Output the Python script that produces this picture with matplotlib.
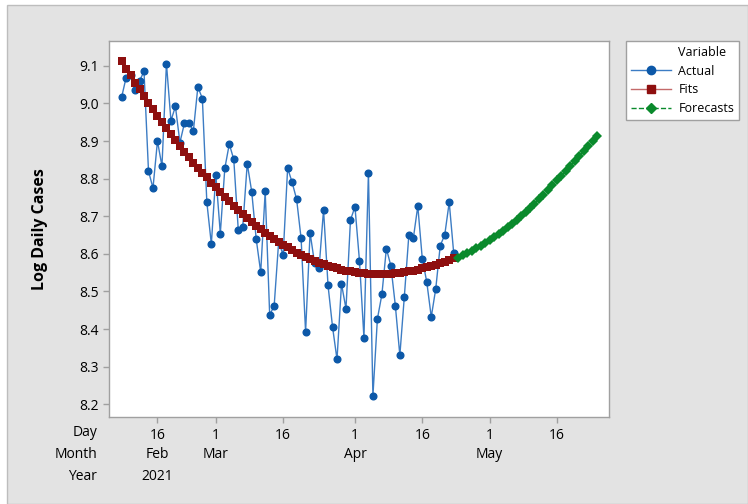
import numpy as np
import pandas as pd
import matplotlib
matplotlib.use('Agg')
import matplotlib.pyplot as plt
import matplotlib.dates as mdates
from matplotlib.lines import Line2D
from matplotlib.patches import Rectangle
from matplotlib.transforms import blended_transform_factory

# Daily log cases, from 8 Feb 2021
start_date = '2021-02-08'
actual = [9.016, 9.068, 9.075, 9.037, 9.060, 9.085, 8.820, 8.775, 8.900, 8.833,
          9.106, 8.954, 8.992, 8.896, 8.947, 8.948, 8.927, 9.044, 9.013, 8.737,
          8.626, 8.810, 8.654, 8.827, 8.892, 8.851, 8.664, 8.672, 8.840, 8.765,
          8.639, 8.551, 8.766, 8.437, 8.462, 8.632, 8.597, 8.828, 8.790, 8.745,
          8.641, 8.392, 8.656, 8.575, 8.562, 8.717, 8.516, 8.406, 8.319, 8.520,
          8.454, 8.690, 8.725, 8.582, 8.377, 8.815, 8.222, 8.427, 8.492, 8.614,
          8.568, 8.462, 8.330, 8.486, 8.649, 8.641, 8.727, 8.587, 8.525, 8.432,
          8.507, 8.622, 8.650, 8.737, 8.602]

fits = [9.113, 9.091, 9.076, 9.054, 9.038, 9.020, 9.002, 8.985, 8.967, 8.950,
        8.935, 8.918, 8.904, 8.888, 8.872, 8.858, 8.842, 8.828, 8.815, 8.803,
        8.788, 8.777, 8.764, 8.751, 8.741, 8.728, 8.717, 8.706, 8.696, 8.684,
        8.673, 8.665, 8.655, 8.647, 8.640, 8.632, 8.624, 8.617, 8.610, 8.603,
        8.597, 8.591, 8.586, 8.581, 8.576, 8.572, 8.568, 8.564, 8.561, 8.558,
        8.555, 8.553, 8.551, 8.549, 8.548, 8.547, 8.546, 8.546, 8.546, 8.546,
        8.547, 8.548, 8.549, 8.551, 8.553, 8.555, 8.558, 8.561, 8.564, 8.567,
        8.571, 8.575, 8.579, 8.583, 8.588]

forecasts = [8.590, 8.596, 8.602, 8.608, 8.615, 8.621, 8.628, 8.636, 8.644, 8.653,
             8.662, 8.671, 8.680, 8.690, 8.700, 8.711, 8.722, 8.733, 8.745, 8.757,
             8.769, 8.782, 8.795, 8.808, 8.821, 8.834, 8.847, 8.860, 8.874, 8.887,
             8.900, 8.914]

tick_dates = ['2021-02-16', '2021-03-01', '2021-03-16', '2021-04-01',
              '2021-04-16', '2021-05-01', '2021-05-16']
month_labels = [('2021-02-16', 'Feb'), ('2021-03-01', 'Mar'),
                ('2021-04-01', 'Apr'), ('2021-05-01', 'May')]
year_labels = [('2021-02-16', '2021')]
y_ticks = [8.2, 8.3, 8.4, 8.5, 8.6, 8.7, 8.8, 8.9, 9.0, 9.1]

dates_fit = pd.date_range(start_date, periods=len(actual))
dates_fc = pd.date_range(dates_fit[-1] + pd.Timedelta(days=1), periods=len(forecasts))

BLUE_LINE = '#3C7CC4'
BLUE = '#0C58A8'
RED = '#8E0F0F'
GREEN = '#0A8A2C'
BG = '#E3E3E3'

plt.rcParams['font.family'] = ['Open Sans', 'DejaVu Sans']

fig = plt.figure(figsize=(7.48, 5.04), dpi=100, facecolor='white')
W, H = 748, 504
# gray panel behind the chart
fig.patches.append(Rectangle((7 / W, 0), 1 - 7 / W, 1 - 5 / H, transform=fig.transFigure,
                             facecolor=BG, edgecolor='#BDBDBD', linewidth=1, zorder=-5))

ax = fig.add_axes([109 / W, 1 - 417 / H, 500 / W, 376 / H])
ax.set_zorder(2)
ax.set_facecolor('white')

ax.plot(dates_fit, actual, '-', color=BLUE_LINE, linewidth=1, zorder=2)
ax.plot(dates_fit, actual, 'o', color=BLUE, markersize=4.8, zorder=3)
ax.plot(dates_fit, fits, '-s', color=RED, markersize=5.2, linewidth=1,
        markeredgewidth=0, zorder=4)
ax.plot(dates_fc, forecasts, '--D', color=GREEN, markersize=5, linewidth=1,
        markeredgewidth=0, zorder=4)

x0 = mdates.date2num(pd.Timestamp(start_date))
ax.set_xlim(x0 - 2.8, x0 + 108.6)
ax.set_ylim(8.166, 9.166)
ax.set_yticks(y_ticks)
ax.set_yticklabels([f'{v:.1f}' for v in y_ticks])

tick_pos = [pd.Timestamp(d) for d in tick_dates]
ax.set_xticks(tick_pos)
ax.set_xticklabels([str(t.day) for t in tick_pos])

for s in ax.spines.values():
    s.set_color('#A0A0A0')
    s.set_linewidth(1)
ax.tick_params(axis='both', colors='#A0A0A0', labelcolor='black', labelsize=10,
               length=4, width=1)
ax.tick_params(axis='x', pad=4)

ax.set_ylabel('Log Daily Cases', fontsize=11.5, fontweight='bold')
ax.yaxis.set_label_coords((48 - 109) / 500, 0.5)

trans = blended_transform_factory(ax.transData, ax.transAxes)
y_day = (417 - 433) / 376
y_month = (417 - 454) / 376
y_year = (417 - 477) / 376
for d, lab in month_labels:
    ax.text(pd.Timestamp(d), y_month, lab, transform=trans, ha='center',
            va='center', fontsize=10)
for d, lab in year_labels:
    ax.text(pd.Timestamp(d), y_year, lab, transform=trans, ha='center',
            va='center', fontsize=10)
for yy, lab in [(y_day, 'Day'), (y_month, 'Month'), (y_year, 'Year')]:
    ax.text((97 - 109) / 500, yy, lab, transform=ax.transAxes, ha='right',
            va='center', fontsize=10)

handles = [Line2D([], [], linestyle='none'),
           Line2D([], [], color=BLUE_LINE, marker='o', markerfacecolor=BLUE,
                  markeredgecolor=BLUE, markersize=6, linewidth=1),
           Line2D([], [], color='#C46A6A', marker='s', markerfacecolor=RED,
                  markeredgecolor=RED, markersize=6, linewidth=1),
           Line2D([], [], color=GREEN, marker='D', linestyle='--',
                  markerfacecolor=GREEN, markeredgecolor=GREEN, markersize=5.5,
                  linewidth=1)]
labels = ['Variable', 'Actual', 'Fits', 'Forecasts']
leg = fig.legend(handles, labels, loc='upper left',
                 bbox_to_anchor=(626 / W, 1 - 41 / H), fontsize=9,
                 frameon=True, fancybox=False, framealpha=1, handlelength=3.2,
                 handletextpad=0.6, labelspacing=0.45, borderpad=0.4,
                 borderaxespad=0)
leg.get_frame().set_edgecolor('#A0A0A0')
leg.get_frame().set_linewidth(1)

fig.savefig('out.png', dpi=100, facecolor=fig.get_facecolor())
